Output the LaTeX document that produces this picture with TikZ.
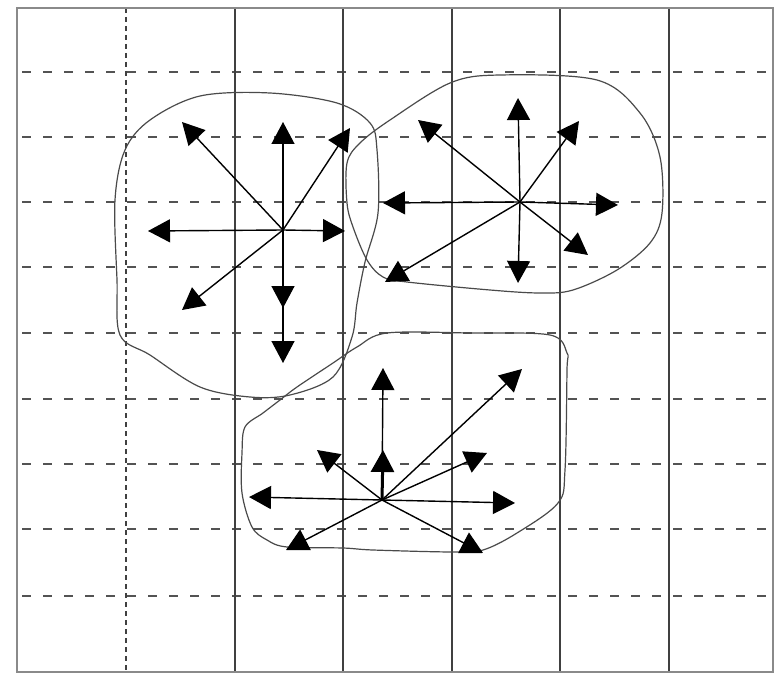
\documentclass[tikz,border=0pt]{standalone}
\usepackage{xcolor}
\usepackage{tikz}
\usetikzlibrary{arrows.meta}
\definecolor{gradecinza}{HTML}{404040}
\definecolor{molduracinza}{HTML}{8A8A8A}
\definecolor{contornocinza}{HTML}{4A4A4A}

\begin{document}
\begin{tikzpicture}[
      x=1pt, y=-1pt,
      moldura/.style={draw=molduracinza, line width=2.4pt},
      linha/.style={gradecinza, line width=2pt},
      tracejada/.style={gradecinza!90, line width=2pt, dash pattern=on 9pt off 12pt},
      pontilhada/.style={gradecinza, line width=2.2pt, dash pattern=on 5pt off 4pt},
      regiao/.style={contornocinza, line width=1.2pt, smooth cycle, tension=0.55},
      seta/.style={-{Triangle[length=22pt, width=23pt]}, black, line width=1.4pt},
      setagrossa/.style={seta, line width=3pt}]
    \useasboundingbox (0,0) rectangle (779,674);
    % grade
    \foreach \y in {72,137,202,267,333,399,464,529,596}
      \draw[tracejada] (22,\y) -- (773,\y);
    \draw[pontilhada] (126,8) -- (126,672);
    \foreach \x in {235,343,452,560,669}
      \draw[linha] (\x,8) -- (\x,672);
    \draw[moldura] (17,8) rectangle (773,672);
    % regioes
    \draw[regiao] plot coordinates {(200,96) (270,93) (337,103) (370,123) (377,150) (378,213)
      (365,262) (357,303) (352,337) (333,377) (290,395) (250,397) (200,387) (150,355)
      (120,335) (117,280) (115,200) (125,150) (150,120)};
    \draw[regiao] plot coordinates {(450,83) (500,75) (597,80) (640,113) (660,157) (662,213)
      (650,243) (617,270) (573,290) (540,293) (490,290) (407,282) (383,277) (367,260)
      (353,227) (347,203) (347,163) (360,143) (390,120)};
    \draw[regiao] plot coordinates {(387,333) (470,333) (550,335) (567,353) (567,370) (565,470)
      (558,503) (517,533) (483,550) (453,552) (373,550) (343,548) (287,547) (267,540)
      (252,527) (242,493) (242,453) (245,427) (263,413) (280,400) (297,387) (333,363)
      (357,347)};
    % centros
    \coordinate (ca) at (283,230);
    \coordinate (cb) at (520,202);
    \coordinate (cc) at (382,500);
    % setas
    \foreach \nome/\dx/\dy in {n/0/-108, l/62/1, o/-135/1, no/-101/-108, ne/67/-102,
                               so/-101/80, s1/0/78, s2/0/133} {
      \path (ca) ++(\dx,\dy) coordinate (ca-\nome);
      \draw[seta] (ca) -- (ca-\nome);
    }
    \foreach \nome/\dx/\dy in {n/-2/-104, l/98/3, o/-137/1, no/-102/-82, ne/59/-81,
                               se/68/53, s/-2/81, so/-135/80} {
      \path (cb) ++(\dx,\dy) coordinate (cb-\nome);
      \draw[seta] (cb) -- (cb-\nome);
    }
    \foreach \nome/\dx/\dy in {n2/1/-132, no/-65/-50, ne1/105/-47, ne2/140/-131,
                               o/-133/-3, l/133/3, so/-96/50, se/101/53} {
      \path (cc) ++(\dx,\dy) coordinate (cc-\nome);
      \draw[seta] (cc) -- (cc-\nome);
    }
    \path (cc) ++(1,-50) coordinate (cc-n1);
    \draw[setagrossa] (cc) -- (cc-n1);
  \end{tikzpicture}
\end{document}
